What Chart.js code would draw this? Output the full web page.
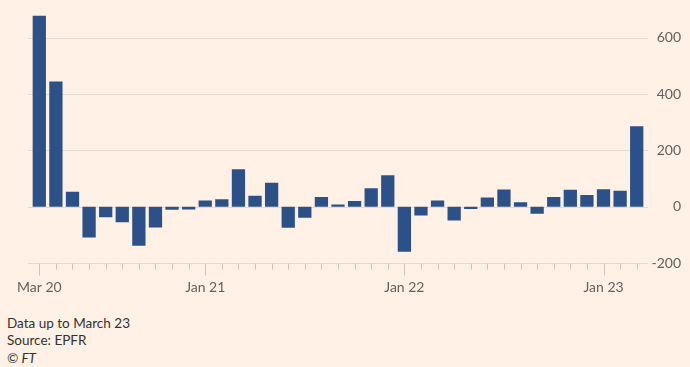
<!DOCTYPE html>
<html>
<head>
<meta charset="utf-8">
<script src="https://cdn.jsdelivr.net/npm/chart.js@4"></script>
<style>
  html, body { margin: 0; padding: 0; background: #FFF1E5; }
  body { width: 690px; height: 367px; position: relative; overflow: hidden; font-family: Lato, sans-serif; }
  #wrap { position: absolute; left: 0; top: 0; width: 690px; height: 300px; }
  .foot { position: absolute; left: 7px; font-size: 13.5px; color: #33302E; line-height: 17px; }
</style>
</head>
<body>
<div id="wrap"><canvas id="c" width="690" height="300"></canvas></div>
<div class="foot" style="top:315px">Data up to March 23</div>
<div class="foot" style="top:332px">Source: EPFR</div>
<div class="foot" style="top:350px;font-style:italic">© FT</div>
<script>
const months = ["Mar 20","Apr 20","May 20","Jun 20","Jul 20","Aug 20","Sep 20","Oct 20","Nov 20","Dec 20",
  "Jan 21","Feb 21","Mar 21","Apr 21","May 21","Jun 21","Jul 21","Aug 21","Sep 21","Oct 21","Nov 21","Dec 21",
  "Jan 22","Feb 22","Mar 22","Apr 22","May 22","Jun 22","Jul 22","Aug 22","Sep 22","Oct 22","Nov 22","Dec 22",
  "Jan 23","Feb 23","Mar 23"];
const flows = [680,445,53,-109,-37,-55,-139,-74,-11,-10,
  22,27,133,39,85,-75,-39,35,8,20,66,112,
  -160,-31,22,-49,-8,33,61,16,-25,35,60,42,
  62,57,286];
const shownLabels = ["Mar 20","Jan 21","Jan 22","Jan 23"];
const yTicks = [-200,0,200,400,600];

Chart.defaults.font.family = 'Lato, sans-serif';

const gridPlugin = {
  id: 'ftGrid',
  beforeDatasetsDraw(chart) {
    const {ctx, chartArea, scales} = chart;
    ctx.save();
    ctx.strokeStyle = '#E6DBD1';
    ctx.lineWidth = 1;
    yTicks.forEach(v => {
      const y = Math.round(scales.y.getPixelForValue(v)) + 0.5;
      ctx.beginPath();
      ctx.moveTo(chartArea.left - 3, y);
      ctx.lineTo(chartArea.right + 3, y);
      ctx.stroke();
    });
    ctx.strokeStyle = '#CEC3BA';
    const base = Math.round(scales.y.getPixelForValue(-200)) + 0.5;
    months.forEach((m, i) => {
      const x = Math.round(scales.x.getPixelForValue(i)) + 0.5;
      const len = shownLabels.includes(m) ? 12 : 6;
      ctx.beginPath();
      ctx.moveTo(x, base);
      ctx.lineTo(x, base + len);
      ctx.stroke();
    });
    ctx.restore();
  }
};

new Chart(document.getElementById('c'), {
  type: 'bar',
  data: {
    labels: months,
    datasets: [{
      data: flows,
      backgroundColor: '#2B5188',
      borderWidth: 0,
      barPercentage: 0.8,
      categoryPercentage: 1.0
    }]
  },
  options: {
    responsive: false,
    animation: false,
    layout: { padding: { left: 31, right: 9, top: 14, bottom: 0 } },
    plugins: { legend: { display: false }, tooltip: { enabled: false } },
    scales: {
      x: {
        offset: true,
        grid: { display: false, drawTicks: false },
        border: { display: false },
        ticks: {
          autoSkip: false,
          maxRotation: 0,
          padding: 16,
          color: '#66605C',
          font: { size: 14 },
          callback: function(v, i) { const l = months[i]; return shownLabels.includes(l) ? l : ''; }
        },
        afterFit: s => { s.height = 37; }
      },
      y: {
        position: 'right',
        min: -200,
        max: 680,
        grid: { display: false, drawTicks: false },
        border: { display: false },
        afterBuildTicks: s => { s.ticks = yTicks.map(v => ({ value: v })); },
        ticks: {
          crossAlign: 'far',
          padding: 7,
          color: '#66605C',
          font: { size: 14 }
        },
        afterFit: s => { s.width = 36; }
      }
    }
  },
  plugins: [gridPlugin]
});
</script>
</body>
</html>
